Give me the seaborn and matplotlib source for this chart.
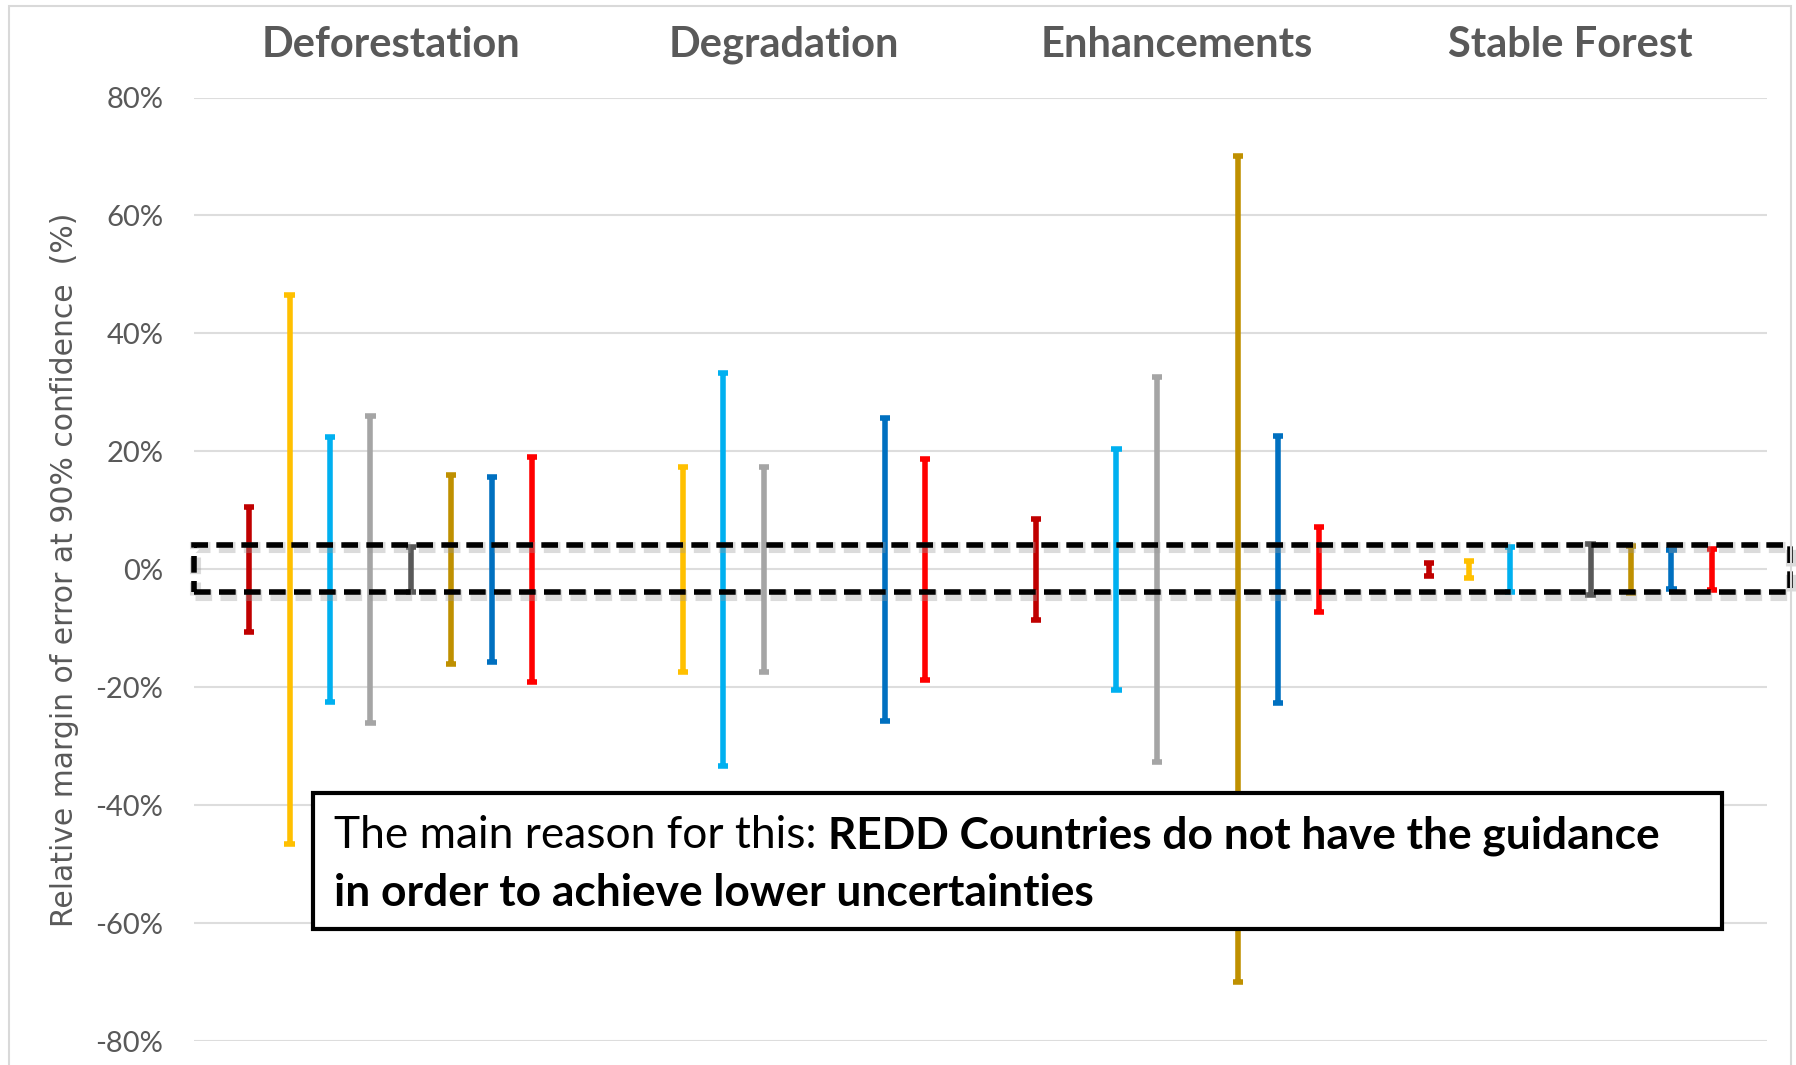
import numpy as np
import pandas as pd
import matplotlib
matplotlib.use("Agg")
import matplotlib.pyplot as plt
import seaborn as sns
from matplotlib.patches import Rectangle
from matplotlib import transforms
import matplotlib.patheffects as pe

# ---------------- data ----------------
categories = ["Deforestation", "Degradation", "Enhancements", "Stable Forest"]
series_names = ["Series 1", "Series 2", "Series 3", "Series 4",
                "Series 5", "Series 6", "Series 7", "Series 8"]
series_colors = ["#C00000", "#FFC000", "#00B0F0", "#A5A5A5",
                 "#595959", "#BF9000", "#0070C0", "#FF0000"]
# relative margin of error (+/- %) per category, NaN = not reported
margin_s1 = [10.6, np.nan, 8.5, 1.1]
margin_s2 = [46.5, 17.4, np.nan, 1.4]
margin_s3 = [22.5, 33.3, 20.5, 3.8]
margin_s4 = [26.0, 17.4, 32.7, np.nan]
margin_s5 = [3.8, np.nan, np.nan, 4.3]
margin_s6 = [16.0, np.nan, 70.0, 4.0]
margin_s7 = [15.7, 25.7, 22.6, 3.3]
margin_s8 = [19.0, 18.7, 7.2, 3.5]
y_ticks = [-80, -60, -40, -20, 0, 20, 40, 60, 80]
y_tick_labels = ["-80%", "-60%", "-40%", "-20%", "0%", "20%", "40%", "60%", "80%"]
y_label = "Relative margin of error at 90% confidence  (%)"
note_normal = "The main reason for this: "
note_bold_1 = "REDD Countries do not have the guidance"
note_bold_2 = "in order to achieve lower uncertainties"
band_low, band_high = -3.8, 4.2

margins = [margin_s1, margin_s2, margin_s3, margin_s4,
           margin_s5, margin_s6, margin_s7, margin_s8]

rows = []
for name, vals in zip(series_names, margins):
    for cat, m in zip(categories, vals):
        if np.isnan(m):
            continue
        rows.append((cat, name, m))
        rows.append((cat, name, -m))
df = pd.DataFrame(rows, columns=["Category", "Series", "Margin"])

# ---------------- style ----------------
sns.set_theme(style="white")
plt.rcParams["font.family"] = ["Lato", "DejaVu Sans"]

W, H = 1796, 1065
fig = plt.figure(figsize=(W / 100, H / 100), dpi=100)
ax = fig.add_axes([194 / W, 1 - 1041.4 / H, (1767 - 194) / W, (1041.4 - 97.5) / H])

sns.pointplot(
    data=df, x="Category", y="Margin", hue="Series",
    order=categories, hue_order=series_names,
    palette=dict(zip(series_names, series_colors)),
    estimator="mean", errorbar=("pi", 100),
    dodge=0.7196, capsize=0.026,
    err_kws={"linewidth": 4.0, "solid_capstyle": "butt"},
    marker="none", linestyle="none", legend=False, ax=ax,
)

ax.set_xlim(-0.5, 3.5)
ax.set_ylim(-80, 80)
ax.set_yticks(y_ticks)
ax.set_yticklabels(y_tick_labels)
ax.set_xlabel("")
ax.set_ylabel(y_label, family="DejaVu Sans", fontsize=21.5, color="#595959")
ax.yaxis.set_label_coords(-0.073, 0.5)
ax.yaxis.grid(True, color="#DDDDDD", linewidth=1.5)
ax.xaxis.grid(False)
ax.set_axisbelow(True)
for s in ax.spines.values():
    s.set_visible(False)

ax.tick_params(axis="y", length=0, pad=22, labelsize=21, labelcolor="#595959")
ax.tick_params(axis="x", length=0, bottom=False, labelbottom=False,
               top=False, labeltop=True, pad=24, labelsize=30, labelcolor="#595959")
for lab in ax.get_xticklabels():
    lab.set_fontweight("bold")

# dashed highlight band around 0%
trans = transforms.blended_transform_factory(ax.transAxes, ax.transData)
band = Rectangle((0, band_low), (1790 - 194) / 1573, band_high - band_low,
                 transform=trans, fill=False, edgecolor="black",
                 linewidth=4.0, linestyle=(0, (3.0, 1.5)), clip_on=False, zorder=8)
band.set_path_effects([pe.SimpleLineShadow(offset=(1.0, -2.0), shadow_color="#999999",
                                           alpha=0.35, linewidth=8),
                       pe.Normal()])
ax.add_patch(band)

# annotation box
box = Rectangle((313 / W, 1 - 929 / H), (1722 - 313) / W, (929 - 793) / H,
                transform=fig.transFigure, facecolor="white", edgecolor="black",
                linewidth=3.0, clip_on=False, zorder=10)
ax.add_patch(box)

fs = 30
t1 = fig.text(334 / W, 1 - 848 / H, note_normal.rstrip(), fontsize=fs, color="black",
              va="baseline", ha="left", zorder=11)
t2 = fig.text(0.5, 1 - 848 / H, note_bold_1, fontsize=fs, color="black", fontweight="bold",
              va="baseline", ha="left", zorder=11)
t3 = fig.text(334 / W, 1 - 906 / H, note_bold_2, fontsize=fs, color="black", fontweight="bold",
              va="baseline", ha="left", zorder=11)
fig.canvas.draw()
r = fig.canvas.get_renderer()
w1 = t1.get_window_extent(r).width
w2 = t2.get_window_extent(r).width
space = 0.26 * fs * 100 / 72
scale = 1323 / (w1 + w2 + space)
fs2 = fs * scale
for t in (t1, t2, t3):
    t.set_fontsize(fs2)
fig.canvas.draw()
e1 = t1.get_window_extent(r)
t2.set_x((e1.x1 + 0.26 * fs2 * 100 / 72) / W)

# chart border
fig.patches.append(Rectangle((9 / W, -0.02), (1791 - 9) / W, 1.02 - 6 / H,
                             transform=fig.transFigure, fill=False,
                             edgecolor="#D9D9D9", linewidth=1.5, zorder=0))

fig.savefig("out.png", dpi=100)
